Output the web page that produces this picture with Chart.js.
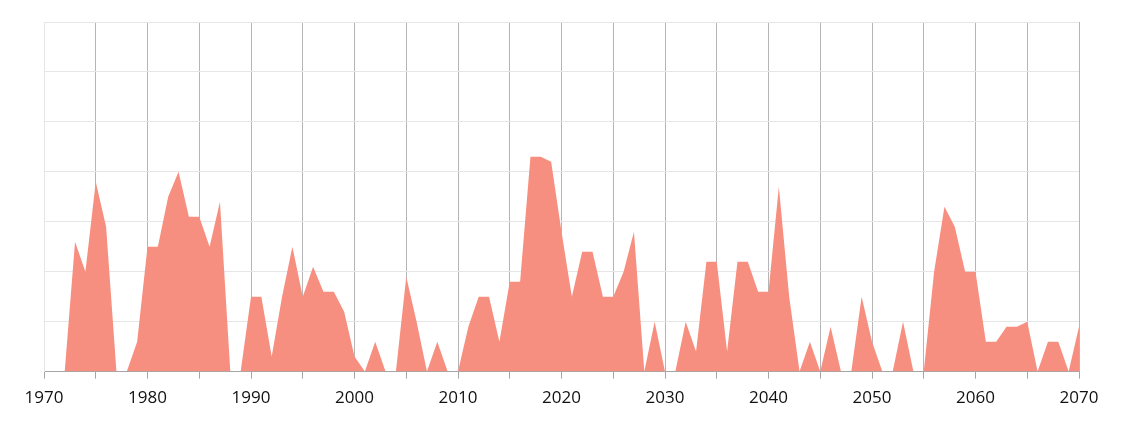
<!DOCTYPE html>
<html>
<head>
<meta charset="utf-8">
<script src="https://cdn.jsdelivr.net/npm/chart.js@4.4.1/dist/chart.umd.min.js"></script>
<style>
  html, body { margin: 0; padding: 0; background: #ffffff; }
  #wrap { width: 1124px; height: 423px; }
</style>
</head>
<body>
<div id="wrap"><canvas id="c" width="1124" height="423"></canvas></div>
<script>
const years = [
  1970,1971,1972,1973,1974,1975,1976,1977,1978,1979,
  1980,1981,1982,1983,1984,1985,1986,1987,1988,1989,
  1990,1991,1992,1993,1994,1995,1996,1997,1998,1999,
  2000,2001,2002,2003,2004,2005,2006,2007,2008,2009,
  2010,2011,2012,2013,2014,2015,2016,2017,2018,2019,
  2020,2021,2022,2023,2024,2025,2026,2027,2028,2029,
  2030,2031,2032,2033,2034,2035,2036,2037,2038,2039,
  2040,2041,2042,2043,2044,2045,2046,2047,2048,2049,
  2050,2051,2052,2053,2054,2055,2056,2057,2058,2059,
  2060,2061,2062,2063,2064,2065,2066,2067,2068,2069,
  2070
];
const values = [
  0,0,0,26,20,38,29,0,0,6,
  25,25,35,40,31,31,25,34,0,0,
  15,15,3,15,25,15,21,16,16,12,
  3,0,6,0,0,19,10,0,6,0,
  0,9,15,15,6,18,18,43,43,42,
  28,15,24,24,15,15,20,28,0,10,
  0,0,10,4,22,22,4,22,22,16,
  16,37,15,0,6,0,9,0,0,15,
  6,0,0,10,0,0,20,33,29,20,
  20,6,6,9,9,10,0,6,6,0,
  9
];
const xMin = 1970, xMax = 2070, xStep = 5, xLabelEvery = 10;
const yMin = 0, yMax = 70, yStep = 10;

const points = years.map((y, i) => ({ x: y, y: values[i] }));

new Chart(document.getElementById('c'), {
  type: 'line',
  data: {
    datasets: [{
      data: points,
      fill: 'origin',
      backgroundColor: 'rgb(247,143,128)',
      borderWidth: 0,
      borderColor: 'rgba(0,0,0,0)',
      pointRadius: 0,
      tension: 0
    }]
  },
  options: {
    responsive: false,
    animation: false,
    layout: { padding: { left: 44, right: 45, top: 22, bottom: 6 } },
    plugins: { legend: { display: false }, tooltip: { enabled: false } },
    scales: {
      x: {
        type: 'linear',
        min: xMin, max: xMax,
        ticks: {
          stepSize: xStep,
          autoSkip: false,
          maxRotation: 0,
          padding: 9,
          color: '#111111',
          font: { family: 'Open Sans', size: 17 },
          callback: (v) => (v % xLabelEvery === 0 ? String(v) : '')
        },
        grid: {
          color: (ctx) => (ctx.tick && ctx.tick.value === xMin ? '#e6e6e6' : '#b5b5b5'),
          lineWidth: 1,
          tickLength: 7,
          tickColor: '#a6a6a6',
          drawTicks: true
        },
        border: { display: true, color: '#a6a6a6', width: 1 }
      },
      y: {
        min: yMin, max: yMax,
        ticks: { display: false, stepSize: yStep },
        grid: { color: '#e6e6e6', lineWidth: 1, drawTicks: false },
        border: { display: true, color: '#e6e6e6' }
      }
    }
  }
});
</script>
</body>
</html>
